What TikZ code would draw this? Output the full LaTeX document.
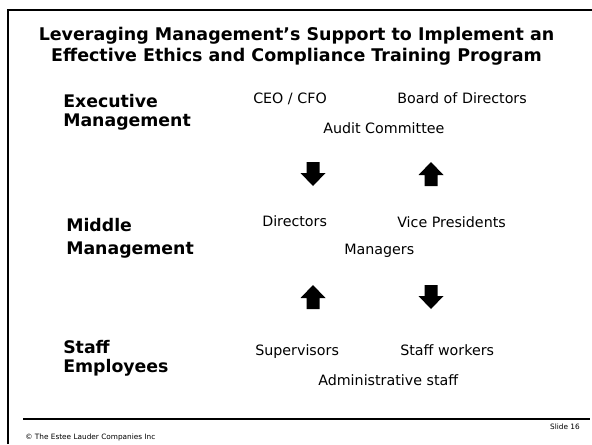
\documentclass[tikz,border=0pt]{standalone}
\usepackage{fontspec}
\setmainfont{DejaVu Sans}
\begin{document}
\begin{tikzpicture}[x=0.75pt,y=-0.75pt,
  title/.style={font=\fontsize{13.1}{15.6}\selectfont\bfseries, align=center, inner sep=0pt, anchor=base},
  level/.style={font=\fontsize{13}{14.25}\selectfont\bfseries, align=left, inner sep=0pt, anchor=base west},
  item/.style={font=\fontsize{10.7}{12}\selectfont, inner sep=0pt, anchor=base west},
  foot/.style={font=\fontsize{5.5}{6.5}\selectfont, inner sep=0pt},
  frameline/.style={line width=1.5pt},
  footline/.style={line width=0.9pt},
  downarrow/.pic={\fill (-6.5,-12) -- (6.5,-12) -- (6.5,-1) -- (12.5,-1) -- (0,12) -- (-12.5,-1) -- (-6.5,-1) -- cycle;},
  uparrow/.pic={\fill (-6.5,12) -- (6.5,12) -- (6.5,1) -- (12.5,1) -- (0,-12) -- (-12.5,1) -- (-6.5,1) -- cycle;}
]
\useasboundingbox (0,0) rectangle (592,444);
\fill[white] (0,0) rectangle (592,444);
\draw[frameline] (7.5,444) -- (7.5,10) -- (592,10);

\node[title] (title) at (296.5,61) {Leveraging Management’s Support to Implement an\\Effective Ethics and Compliance Training Program};

\node[level] (exec) at (63,126) {Executive\\Management};
\node[level] (mid) at (66,254.5) {Middle\\[3.2pt]Management};
\node[level] (staff) at (63,372) {Staff\\Employees};

\node[item] (ceo) at (253,103) {CEO / CFO};
\node[item] (board) at (397,103) {Board of Directors};
\node[item] (audit) at (323,133) {Audit Committee};

\pic (a1) at (313,174) {downarrow};
\pic (a2) at (431,174) {uparrow};

\node[item] (dir) at (262,226) {Directors};
\node[item] (vp) at (397,227) {Vice Presidents};
\node[item] (mgr) at (344,254) {Managers};

\pic (a3) at (313,297) {uparrow};
\pic (a4) at (431,297) {downarrow};

\node[item] (sup) at (255,355) {Supervisors};
\node[item] (sw) at (400,355) {Staff workers};
\node[item] (adm) at (318,385) {Administrative staff};

\draw[footline] (23,419) -- (590,419);
\node[foot, anchor=base west] (copy) at (25,439) {© The Estee Lauder Companies Inc};
\node[foot, anchor=base east] (slide) at (580,429) {Slide 16};
\end{tikzpicture}
\end{document}
